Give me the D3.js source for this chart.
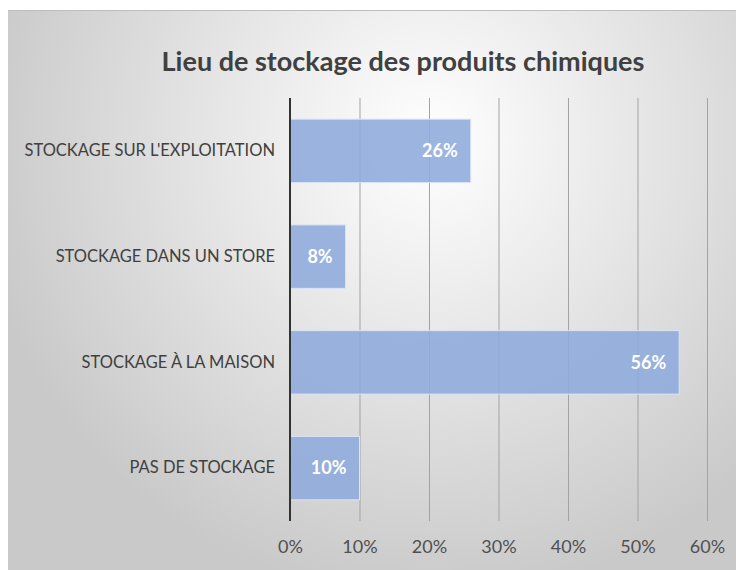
<!DOCTYPE html>
<html>
<head>
<meta charset="utf-8">
<script src="https://cdn.jsdelivr.net/npm/d3@7"></script>
<style>
  body { margin: 0; background: #fff; }
</style>
</head>
<body>
<div id="chart"></div>
<script>
// data
var categories = ["STOCKAGE SUR L'EXPLOITATION", "STOCKAGE DANS UN STORE", "STOCKAGE À LA MAISON", "PAS DE STOCKAGE"];
var values = [0.26, 0.08, 0.56, 0.10];
var tickValues = [0, 0.1, 0.2, 0.3, 0.4, 0.5, 0.6];
var title = "Lieu de stockage des produits chimiques";

var width = 736, height = 570;
var fontName = "Lato, 'Open Sans', sans-serif";

var svg = d3.select("#chart")
    .append("svg")
    .attr("width", width)
    .attr("height", height);

// background gradient
var grad = svg.append("defs")
    .append("radialGradient")
    .attr("id", "bg")
    .attr("gradientUnits", "userSpaceOnUse")
    .attr("cx", 430)
    .attr("cy", 140)
    .attr("r", 460);
grad.append("stop").attr("offset", "0%").attr("stop-color", "#ffffff");
grad.append("stop").attr("offset", "100%").attr("stop-color", "#c9c9c9");

svg.append("rect")
    .attr("x", 8)
    .attr("y", 10)
    .attr("width", width)
    .attr("height", height)
    .attr("fill", "url(#bg)");

svg.append("line")
    .attr("x1", 8).attr("x2", width)
    .attr("y1", 10.5).attr("y2", 10.5)
    .attr("stroke", "#bdbdbd")
    .attr("stroke-width", 1);

// title
svg.append("text")
    .attr("x", 403)
    .attr("y", 71)
    .attr("text-anchor", "middle")
    .attr("fill", "#404040")
    .attr("font-family", fontName)
    .attr("font-weight", "bold")
    .attr("font-size", "27px")
    .text(title);

// scales
var x = d3.scaleLinear().domain([0, 0.6]).range([290, 707]);
var y = d3.scaleBand().domain(categories).range([98, 521]).paddingInner(0.4).paddingOuter(0.2);

// gridlines
svg.append("g")
    .selectAll("line")
    .data(tickValues.slice(1))
    .enter()
    .append("line")
    .attr("x1", function (d) { return x(d) + 0.5; })
    .attr("x2", function (d) { return x(d) + 0.5; })
    .attr("y1", 98)
    .attr("y2", 521)
    .attr("stroke", "#a3a3a3")
    .attr("stroke-width", 1);

// bars
svg.append("g")
    .selectAll("rect")
    .data(values)
    .enter()
    .append("rect")
    .attr("x", x(0))
    .attr("y", function (d, i) { return y(categories[i]); })
    .attr("width", function (d) { return x(d) - x(0); })
    .attr("height", y.bandwidth())
    .attr("fill", "#8eaadc")
    .attr("fill-opacity", 0.88)
    .attr("stroke", "#dce4f4")
    .attr("stroke-width", 1);

// data labels
svg.append("g")
    .selectAll("text")
    .data(values)
    .enter()
    .append("text")
    .attr("x", function (d) { return x(d) - 13; })
    .attr("y", function (d, i) { return y(categories[i]) + y.bandwidth() / 2; })
    .attr("dy", "0.35em")
    .attr("text-anchor", "end")
    .attr("fill", "#ffffff")
    .attr("font-family", fontName)
    .attr("font-weight", "bold")
    .attr("font-size", "18px")
    .text(function (d) { return Math.round(d * 100) + "%"; });

// category axis
var yAxis = d3.axisLeft(y).tickSize(0).tickPadding(15);
var gy = svg.append("g")
    .attr("transform", "translate(290,0)")
    .call(yAxis);
gy.select(".domain").remove();
gy.selectAll("text")
    .attr("fill", "#404040")
    .attr("font-family", fontName)
    .attr("font-size", "16.5px");

// vertical axis line
svg.append("line")
    .attr("x1", x(0)).attr("x2", x(0))
    .attr("y1", 98).attr("y2", 521)
    .attr("stroke", "#333333")
    .attr("stroke-width", 2);

// value axis labels
var xAxis = d3.axisBottom(x).tickValues(tickValues).tickSize(0).tickPadding(0)
    .tickFormat(d3.format(".0%"));
var gx = svg.append("g")
    .attr("transform", "translate(0,540)")
    .call(xAxis);
gx.select(".domain").remove();
gx.selectAll("text")
    .attr("fill", "#505050")
    .attr("font-family", fontName)
    .attr("font-size", "18px");
</script>
</body>
</html>
